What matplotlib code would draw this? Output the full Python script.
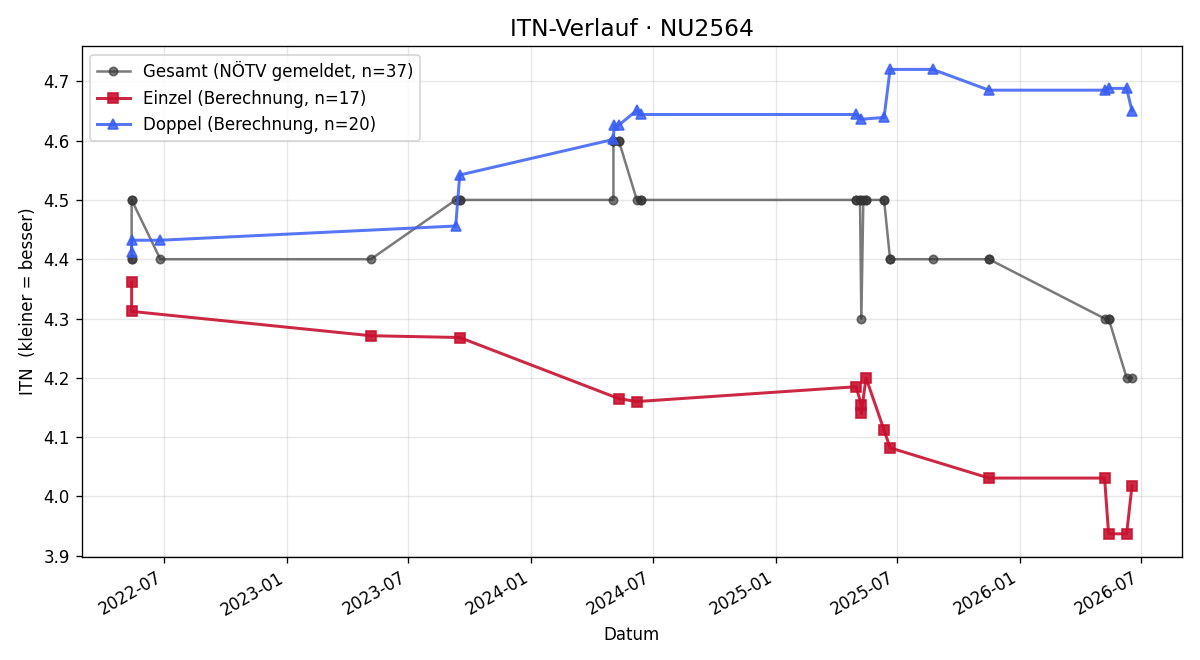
import matplotlib
matplotlib.use("Agg")
import matplotlib.pyplot as plt
import matplotlib.dates as mdates
import pandas as pd

gesamt_dates = [
    "2022-05-13", "2022-05-13", "2022-05-13", "2022-05-13", "2022-06-25",
    "2023-05-06", "2023-09-10", "2023-09-16", "2023-09-16",
    "2024-05-03", "2024-05-03", "2024-05-03", "2024-05-11", "2024-05-11",
    "2024-06-07", "2024-06-13", "2024-06-13",
    "2025-05-01", "2025-05-01", "2025-05-07", "2025-05-07", "2025-05-09",
    "2025-05-12", "2025-05-16", "2025-05-16",
    "2025-06-12", "2025-06-12", "2025-06-21", "2025-06-21",
    "2025-08-24", "2025-11-16", "2025-11-16",
    "2026-05-08", "2026-05-14", "2026-05-14", "2026-06-10", "2026-06-18",
]
gesamt_vals = [
    4.4, 4.4, 4.5, 4.5, 4.4,
    4.4, 4.5, 4.5, 4.5,
    4.5, 4.6, 4.6, 4.6, 4.6,
    4.5, 4.5, 4.5,
    4.5, 4.5, 4.5, 4.5, 4.3,
    4.5, 4.5, 4.5,
    4.5, 4.5, 4.4, 4.4,
    4.4, 4.4, 4.4,
    4.3, 4.3, 4.3, 4.2, 4.2,
]

einzel_dates = [
    "2022-05-13", "2022-05-13", "2023-05-06", "2023-09-16", "2024-05-11",
    "2024-06-07", "2025-05-01", "2025-05-09", "2025-05-09", "2025-05-16",
    "2025-06-12", "2025-06-21", "2025-11-16", "2026-05-08", "2026-05-14",
    "2026-06-10", "2026-06-18",
]
einzel_vals = [
    4.361, 4.312, 4.271, 4.268, 4.165,
    4.160, 4.185, 4.155, 4.140, 4.200,
    4.112, 4.082, 4.031, 4.031, 3.937,
    3.937, 4.018,
]

doppel_dates = [
    "2022-05-13", "2022-05-13", "2022-06-25", "2023-09-10", "2023-09-16",
    "2024-05-03", "2024-05-04", "2024-05-11", "2024-06-07", "2024-06-13",
    "2025-05-01", "2025-05-09", "2025-06-12", "2025-06-21", "2025-08-24",
    "2025-11-16", "2026-05-08", "2026-05-14", "2026-06-10", "2026-06-18",
]
doppel_vals = [
    4.413, 4.432, 4.432, 4.456, 4.542,
    4.602, 4.626, 4.626, 4.651, 4.644,
    4.644, 4.636, 4.639, 4.720, 4.720,
    4.685, 4.685, 4.688, 4.688, 4.650,
]

fig, ax = plt.subplots(figsize=(10, 5.5), dpi=120)

ax.plot(pd.to_datetime(gesamt_dates), gesamt_vals, marker="o", color="#333333",
        alpha=0.65, linewidth=1.5, markersize=5,
        label="Gesamt (NÖTV gemeldet, n=37)")
ax.plot(pd.to_datetime(einzel_dates), einzel_vals, marker="s", color="#c8102e",
        alpha=0.9, linewidth=1.8, markersize=6,
        label="Einzel (Berechnung, n=17)")
ax.plot(pd.to_datetime(doppel_dates), doppel_vals, marker="^", color="#3a5ef5",
        alpha=0.85, linewidth=1.8, markersize=6,
        label="Doppel (Berechnung, n=20)")

ax.set_title("ITN-Verlauf · NU2564", fontsize=14)
ax.set_xlabel("Datum")
ax.set_ylabel("ITN  (kleiner = besser)")
ax.grid(True, alpha=0.3)
ax.xaxis.set_major_locator(mdates.MonthLocator(bymonth=[1, 7]))
ax.xaxis.set_major_formatter(mdates.DateFormatter("%Y-%m"))
ax.legend(loc="upper left")
fig.autofmt_xdate()
fig.subplots_adjust(left=0.068, right=0.985, top=0.93, bottom=0.156)
fig.savefig("out.png", dpi=120)
